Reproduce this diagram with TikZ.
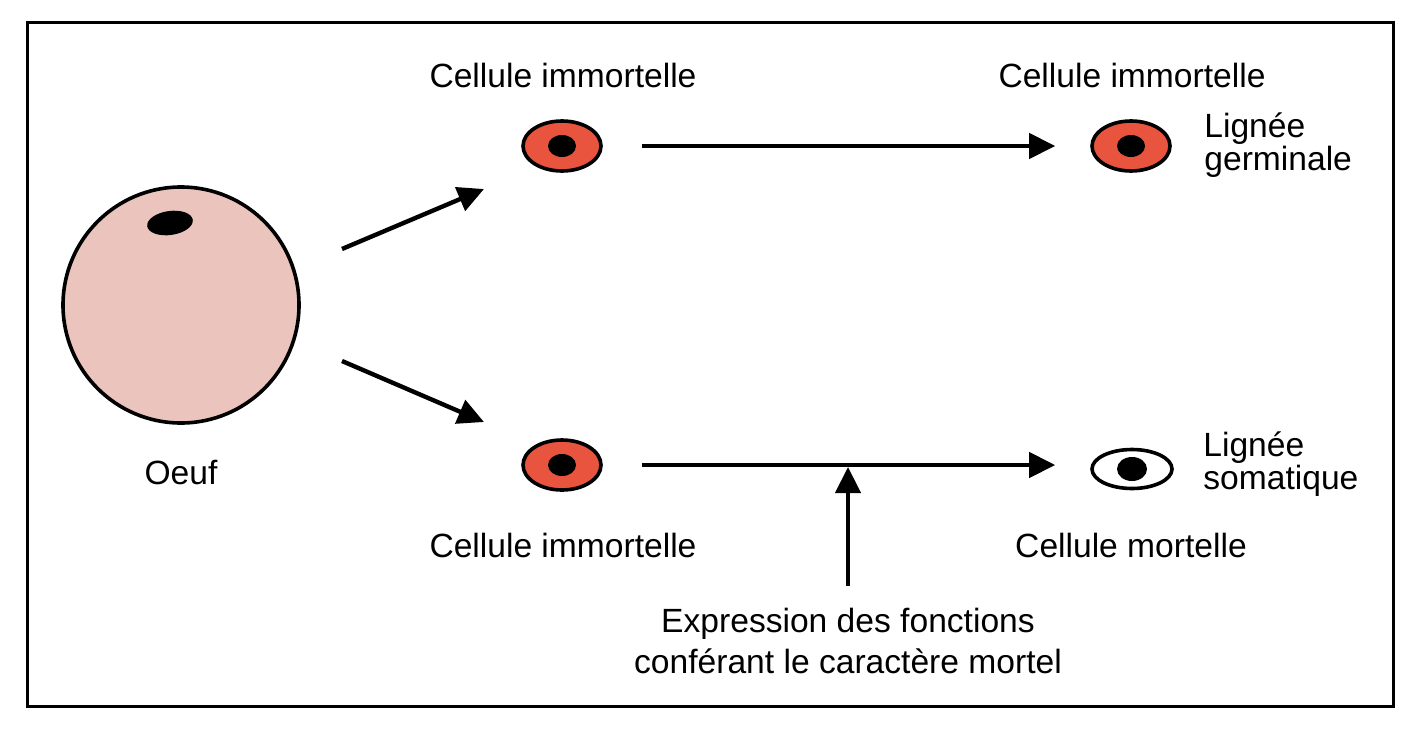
\documentclass[tikz,border=0pt]{standalone}
\usepackage{fontspec}
\setmainfont{Liberation Sans}
\usetikzlibrary{arrows.meta,shapes.geometric}
\definecolor{eggpink}{RGB}{236,196,190}
\definecolor{cellred}{RGB}{232,84,62}
\tikzset{
  arr/.style={line width=2.2pt, -{Triangle[length=13pt,width=12.5pt]}},
  cell/.style={ellipse, draw=black, line width=1.8pt, inner sep=0pt, minimum width=39pt, minimum height=25pt},
  label/.style={inner sep=0pt, font=\fontsize{16.8}{20}\selectfont}
}
\begin{document}
\begin{tikzpicture}[x=0.5pt,y=-0.5pt]
			\useasboundingbox (0,0) rectangle (1416,728);
			\draw[line width=1.5pt] (27,22) rectangle (1393,706);
			\node[circle, draw=black, fill=eggpink, line width=1.8pt, minimum size=118pt, inner sep=0pt] (egg) at (181,305) {};
			\fill[black, rotate around={8:(170,223)}] (170,223) ellipse [x radius=11.5pt, y radius=6pt];
			\node[label] (oeuf) at (181,472) {Oeuf};
			\node[cell, fill=cellred] (g1) at (562,146) {};
			\fill[black] (g1.center) ellipse [x radius=7pt, y radius=5.5pt];
			\node[cell, fill=cellred] (g2) at (1131,146) {};
			\fill[black] (g2.center) ellipse [x radius=7pt, y radius=5.5pt];
			\node[cell, fill=cellred] (s1) at (562,465) {};
			\fill[black] (s1.center) ellipse [x radius=7pt, y radius=5.5pt];
			\node[cell, fill=white, minimum width=40pt, minimum height=19.5pt] (s2) at (1132,469) {};
			\fill[black] (s2.center) ellipse [x radius=7.5pt, y radius=6pt];
			\node[label] (lg1) at (563,75) {Cellule immortelle};
			\node[label] (lg2) at (1132,75) {Cellule immortelle};
			\node[label] (ls1) at (563,545) {Cellule immortelle};
			\node[label] (ls2) at (1131,545) {Cellule mortelle};
			\node[label, anchor=west, align=left, font=\fontsize{16.8}{16.5}\selectfont] (germ) at (1204,145) {Lignée\\germinale};
			\node[label, anchor=west, align=left, font=\fontsize{16.8}{16.5}\selectfont] (soma) at (1203,464) {Lignée\\somatique};
			\node[label, align=center, font=\fontsize{16.8}{20.5}\selectfont] (expr) at (848,641) {Expression des fonctions\\conférant le caractère mortel};
			\coordinate (upA) at (342,249);
			\coordinate (upB) at (484,189);
			\coordinate (dnA) at (342,361);
			\coordinate (dnB) at (484,422);
			\coordinate (hit) at (848,467);
			\draw[arr] (upA) -- (upB);
			\draw[arr] (dnA) -- (dnB);
			\draw[arr, shorten <=19.5pt, shorten >=17.5pt] (g1.east) -- (g2.west);
			\draw[arr, shorten <=19.5pt, shorten >=17.5pt] (s1.east) -- (s2.west |- s1.east);
			\draw[arr, shorten <=11pt] (expr.north) -- (hit);
		\end{tikzpicture}
\end{document}
